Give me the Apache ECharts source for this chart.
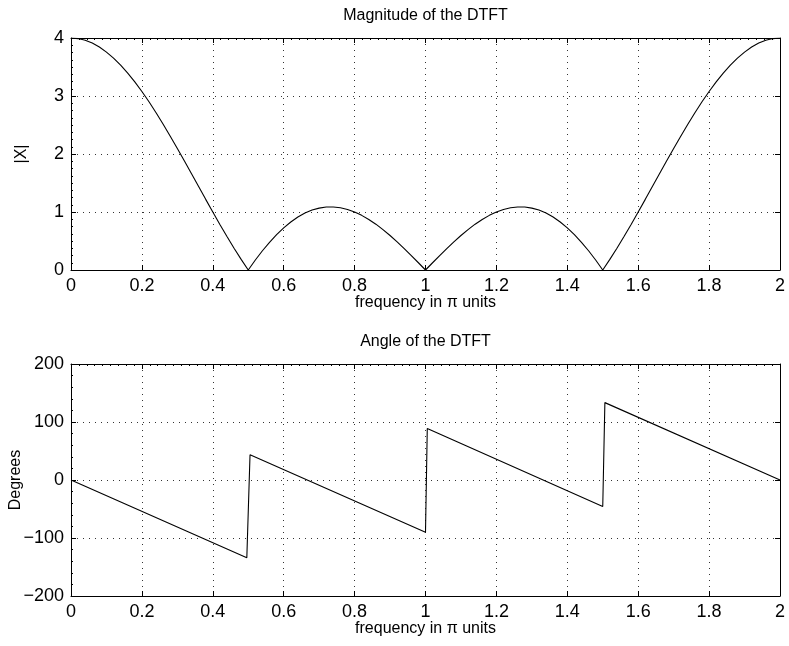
<!DOCTYPE html>
<html>
<head>
<meta charset="utf-8">
<script src="https://cdn.jsdelivr.net/npm/echarts@6/dist/echarts.min.js"></script>
<style>html,body{margin:0;padding:0;background:#fff}#c{width:789px;height:646px}</style>
</head>
<body>
<div id="c"></div>
<script>
var magFreq = [0,0.02,0.04,0.06,0.08,0.10,0.12,0.14,0.16,0.18,0.20,0.22,0.24,0.26,0.28,0.30,0.32,0.34,0.36,0.38,0.40,0.42,0.44,0.46,0.48,
0.50,0.52,0.54,0.56,0.58,0.60,0.62,0.64,0.66,0.68,0.70,0.72,0.74,0.76,0.78,0.80,0.82,0.84,0.86,0.88,0.90,0.92,0.94,0.96,0.98,
1.00,1.02,1.04,1.06,1.08,1.10,1.12,1.14,1.16,1.18,1.20,1.22,1.24,1.26,1.28,1.30,1.32,1.34,1.36,1.38,1.40,1.42,1.44,1.46,1.48,
1.50,1.52,1.54,1.56,1.58,1.60,1.62,1.64,1.66,1.68,1.70,1.72,1.74,1.76,1.78,1.80,1.82,1.84,1.86,1.88,1.90,1.92,1.94,1.96,1.98,2.00];
var magValues = [4.000,3.990,3.961,3.912,3.844,3.757,3.653,3.532,3.395,3.243,3.078,2.900,2.711,2.513,2.307,2.095,1.878,1.659,1.438,1.218,1.000,0.786,0.578,0.376,0.183,
0,0.172,0.332,0.478,0.610,0.727,0.828,0.913,0.981,1.033,1.067,1.086,1.087,1.073,1.044,1.000,0.942,0.872,0.790,0.697,0.595,0.486,0.370,0.249,0.125,
0,0.125,0.249,0.370,0.486,0.595,0.697,0.790,0.872,0.942,1.000,1.044,1.073,1.087,1.086,1.067,1.033,0.981,0.913,0.828,0.727,0.610,0.478,0.332,0.172,
0,0.183,0.376,0.578,0.786,1.000,1.218,1.438,1.659,1.878,2.095,2.307,2.513,2.711,2.900,3.078,3.243,3.395,3.532,3.653,3.757,3.844,3.912,3.961,3.990,4.000];
var phaseFreq = [0, 0.496, 0.505, 1.000, 1.005, 1.500, 1.506, 2.000];
var phaseDeg  = [0, -133.9, 43.6, -90.0, 88.6, -45.5, 133.4, 0];
var xTicks = {min: 0, max: 2, interval: 0.2};
var magTicks = {min: 0, max: 4, interval: 1};
var phaseTicks = {min: -200, max: 200, interval: 100};
var titles = ['Magnitude of the DTFT', 'Angle of the DTFT'];
var xName = 'frequency in \u03c0 units';
var yNames = ['|X|', 'Degrees'];

var FONT = 'Liberation Sans, Arial, Helvetica, sans-serif';
var BLACK = '#000';
function fmtY(v){ return v < 0 ? '\u2212' + (-v) : String(v); }
function fmtX(v){ return String(Math.round(v*10)/10); }

function bottomX(grid){
  return {type:'value', gridIndex:grid, position:'bottom', min:xTicks.min, max:xTicks.max, interval:xTicks.interval,
    name:xName, nameLocation:'middle', nameGap:25, nameMoveOverlap:false, nameTextStyle:{fontFamily:FONT, fontSize:16, color:BLACK},
    axisLine:{show:true, onZero:false, lineStyle:{color:BLACK, width:1}},
    axisTick:{show:true, inside:true, length:5, lineStyle:{color:BLACK}},
    axisLabel:{show:true, fontFamily:FONT, fontSize:18, color:BLACK, margin:7, formatter:fmtX},
    splitLine:{show:true, lineStyle:{color:'#333', width:1, type:[1,5]}}};
}
function topX(grid){
  return {type:'value', gridIndex:grid, position:'top', min:xTicks.min, max:xTicks.max, interval:xTicks.interval,
    axisLine:{show:true, onZero:false, lineStyle:{color:BLACK, width:1}},
    axisTick:{show:true, inside:true, length:5, lineStyle:{color:BLACK}},
    minorTick:{show:true, splitNumber:9, length:2, lineStyle:{color:BLACK}},
    axisLabel:{show:false}, splitLine:{show:false}};
}
function leftY(grid, t, name, gap, minorSplit){
  return {type:'value', gridIndex:grid, position:'left', min:t.min, max:t.max, interval:t.interval,
    name:name, nameLocation:'middle', nameGap:gap, nameMoveOverlap:false, nameTextStyle:{fontFamily:FONT, fontSize:16, color:BLACK},
    axisLine:{show:true, onZero:false, lineStyle:{color:BLACK, width:1}},
    axisTick:{show:true, inside:true, length:5, lineStyle:{color:BLACK}},
    minorTick:{show:true, splitNumber:minorSplit, length:2, lineStyle:{color:BLACK}},
    axisLabel:{show:true, fontFamily:FONT, fontSize:18, color:BLACK, margin:7, formatter:fmtY},
    splitLine:{show:true, lineStyle:{color:'#333', width:1, type:[1,5]}}};
}
function rightY(grid, t){
  return {type:'value', gridIndex:grid, position:'right', min:t.min, max:t.max, interval:t.interval,
    axisLine:{show:true, onZero:false, lineStyle:{color:BLACK, width:1}},
    axisTick:{show:true, inside:true, length:5, lineStyle:{color:BLACK}},
    axisLabel:{show:false}, splitLine:{show:false}};
}

var chart = echarts.init(document.getElementById('c'), null, {renderer:'canvas'});
chart.setOption({
  animation:false,
  backgroundColor:'#fff',
  grid:[{left:71, top:38, width:709, height:232, containLabel:false, outerBoundsMode:'none'},
        {left:71, top:364, width:709, height:232, containLabel:false, outerBoundsMode:'none'}],
  xAxis:[bottomX(0), topX(0), bottomX(1), topX(1)],
  yAxis:[leftY(0, magTicks, yNames[0], 41, 8), rightY(0, magTicks), leftY(1, phaseTicks, yNames[1], 47, 5), rightY(1, phaseTicks)],
  graphic:[
    {type:'text', x:425.5, y:8, style:{text:titles[0], font:'16px '+FONT, fill:BLACK, textAlign:'center', textVerticalAlign:'top'}},
    {type:'text', x:425.5, y:334, style:{text:titles[1], font:'16px '+FONT, fill:BLACK, textAlign:'center', textVerticalAlign:'top'}}
  ],
  series:[
    {type:'line', xAxisIndex:0, yAxisIndex:0, showSymbol:false, symbol:'none',
      lineStyle:{color:BLACK, width:1.1}, data:magFreq.map(function(f,i){return [f, magValues[i]];})},
    {type:'line', xAxisIndex:2, yAxisIndex:2, showSymbol:false, symbol:'none',
      lineStyle:{color:BLACK, width:1.1}, data:phaseFreq.map(function(f,i){return [f, phaseDeg[i]];})}
  ]
});
</script>
</body>
</html>
